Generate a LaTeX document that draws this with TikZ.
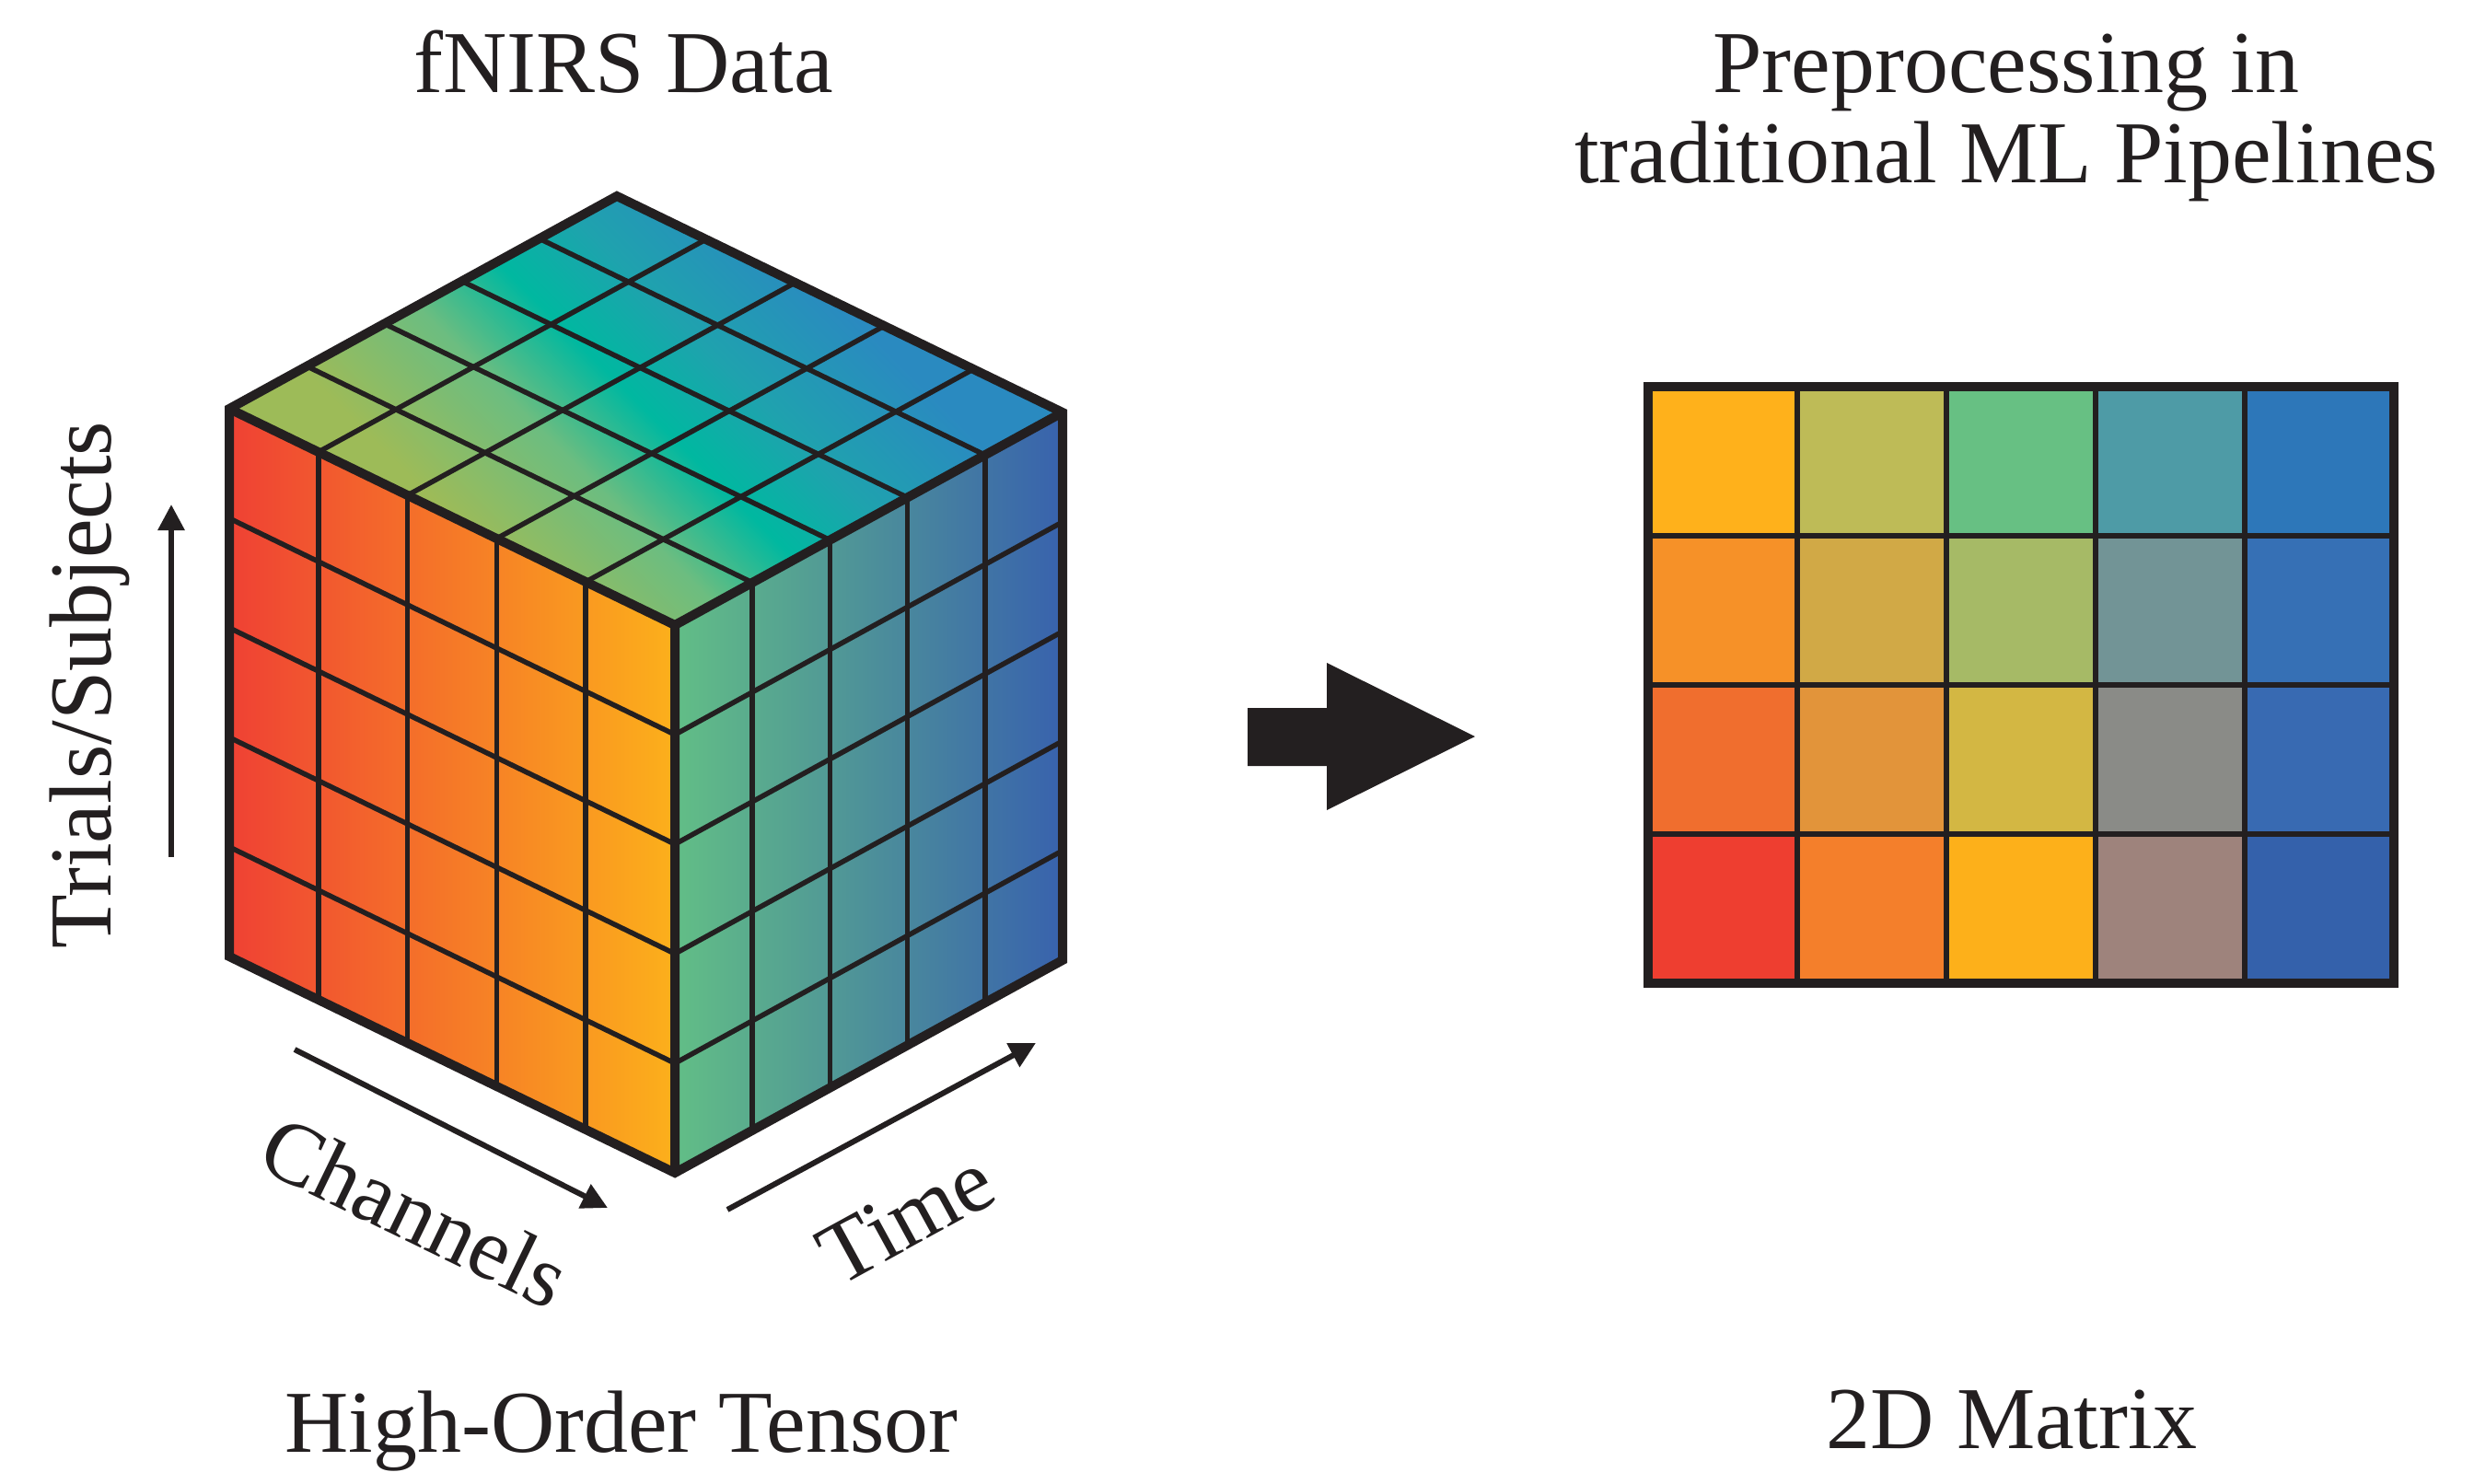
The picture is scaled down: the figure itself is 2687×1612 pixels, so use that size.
\documentclass[tikz,border=0pt]{standalone}
\usepackage{fontspec}
\setmainfont{Liberation Serif}
\usetikzlibrary{positioning,calc,arrows.meta}

\definecolor{ink}{HTML}{231F20}
% cube faces
\definecolor{fRed}{HTML}{EF4134}
\definecolor{fOrange}{HTML}{F37D2C}
\definecolor{fYellow}{HTML}{FCB01B}
\definecolor{sGreen}{HTML}{62BE86}
\definecolor{sTeal}{HTML}{4A8FA3}
\definecolor{sBlue}{HTML}{3862AD}
\definecolor{tLime}{HTML}{9DBB58}
\definecolor{tGreen}{HTML}{6CBD80}
\definecolor{tTeal}{HTML}{00B8A0}
\definecolor{tCyan}{HTML}{1FA2AE}
\definecolor{tBlue}{HTML}{2A8AC0}
% matrix cells
\definecolor{m11}{HTML}{FFB11B}
\definecolor{m12}{HTML}{BEBB57}
\definecolor{m13}{HTML}{67C083}
\definecolor{m14}{HTML}{4E9BA6}
\definecolor{m15}{HTML}{2D77B9}
\definecolor{m21}{HTML}{F69128}
\definecolor{m22}{HTML}{D1A946}
\definecolor{m23}{HTML}{A6BA66}
\definecolor{m24}{HTML}{729496}
\definecolor{m25}{HTML}{3670B5}
\definecolor{m31}{HTML}{F06E2E}
\definecolor{m32}{HTML}{E2943A}
\definecolor{m33}{HTML}{D3B743}
\definecolor{m34}{HTML}{8A8B87}
\definecolor{m35}{HTML}{386AB2}
\definecolor{m41}{HTML}{EE3E30}
\definecolor{m42}{HTML}{F47F2B}
\definecolor{m43}{HTML}{FDB01A}
\definecolor{m44}{HTML}{9E837C}
\definecolor{m45}{HTML}{3461AB}

\pgfdeclarehorizontalshading{topface}{100bp}{color(0bp)=(tLime); color(33bp)=(tLime); color(43bp)=(tGreen); color(50bp)=(tTeal); color(57bp)=(tCyan); color(67bp)=(tBlue); color(100bp)=(tBlue)}

\begin{document}
\begin{tikzpicture}[x=0.1mm,y=-0.1mm,
	cubeedge/.style={line width=1mm,draw=ink},
	gridline/.style={line width=0.55mm,draw=ink},
	axisarrow/.style={line width=0.6mm,draw=ink,-{Triangle[length=2.8mm,width=2.8mm]}},
	txt/.style={font=\fontsize{27.3}{28.1}\selectfont,inner sep=0pt,text=ink}]
	\useasboundingbox (0,0) rectangle (2687,1612);

	% cube corners
	\coordinate (L) at (249,444);
	\coordinate (T) at (670,213);
	\coordinate (C) at (733,679);
	\coordinate (R) at (1154,448);
	\coordinate (Lb) at (249,1039);
	\coordinate (Cb) at (733,1274);
	\coordinate (Rb) at (1154,1043);

	% faces
	\shade[left color=fRed, middle color=fOrange, right color=fYellow] (L) -- (C) -- (Cb) -- (Lb) -- cycle;
	\shade[left color=sGreen, middle color=sTeal, right color=sBlue] (C) -- (R) -- (Rb) -- (Cb) -- cycle;
	\shade[shading=topface, shading angle=45] (L) -- (T) -- (R) -- (C) -- cycle;

	% grid
	\foreach \i in {1,...,4} {
		\draw[gridline] ($(L)!\i/5!(C)$) -- ($(Lb)!\i/5!(Cb)$);
		\draw[gridline] ($(L)!\i/5!(Lb)$) -- ($(C)!\i/5!(Cb)$);
		\draw[gridline] ($(C)!\i/5!(R)$) -- ($(Cb)!\i/5!(Rb)$);
		\draw[gridline] ($(C)!\i/5!(Cb)$) -- ($(R)!\i/5!(Rb)$);
		\draw[gridline] ($(L)!\i/5!(C)$) -- ($(T)!\i/5!(R)$);
		\draw[gridline] ($(L)!\i/5!(T)$) -- ($(C)!\i/5!(R)$);
	}
	\draw[cubeedge] (L) -- (T) -- (R) -- (Rb) -- (Cb) -- (Lb) -- cycle;
	\draw[cubeedge] (L) -- (C) -- (R) (C) -- (Cb);

	% axes
	\coordinate (trA) at (186,931);
	\coordinate (trB) at (186,548);
	\coordinate (chA) at (320,1140);
	\coordinate (chB) at (660,1312);
	\coordinate (tiA) at (790,1314);
	\coordinate (tiB) at (1125,1133);
	\draw[axisarrow] (trA) -- (trB);
	\draw[axisarrow] (chA) -- (chB);
	\draw[axisarrow] (tiA) -- (tiB);
	\node[txt, rotate=90, anchor=base] (trials) at (120,744) {Trials/Subjects};
	\node[txt, rotate=-25.9] (chan) at (451,1316) {Channels};
	\node[txt, rotate=28.7] (time) at (984,1323) {Time};

	% big arrow
	\fill[ink] (1355,769) -- (1441,769) -- (1441,720) -- (1602,800) -- (1441,880) -- (1441,832) -- (1355,832) -- cycle;

	% matrix
	\foreach \r in {1,...,4}
		\foreach \c in {1,...,5}
			\fill[fill=m\r\c] ({1790+(\c-1)*162},{420+(\r-1)*162}) rectangle ++(162,162);
	\foreach \k in {1,...,4}
		\draw[gridline] ({1790+\k*162},420) -- ++(0,648);
	\foreach \k in {1,...,3}
		\draw[gridline] (1790,{420+\k*162}) -- ++(810,0);
	\draw[cubeedge] (1790,420) rectangle (2600,1068);

	% titles
	\node[txt, anchor=base] (fnirs) at (677,100) {fNIRS Data};
	\node[txt, anchor=base] (pre1) at (2179,100) {Preprocessing in};
	\node[txt, anchor=base] (pre2) at (2179,198) {traditional ML Pipelines};
	\node[txt, anchor=base] (tensor) at (675,1577) {High-Order Tensor};
	\node[txt, anchor=base] (mat2d) at (2185,1573) {2D Matrix};
\end{tikzpicture}
\end{document}
